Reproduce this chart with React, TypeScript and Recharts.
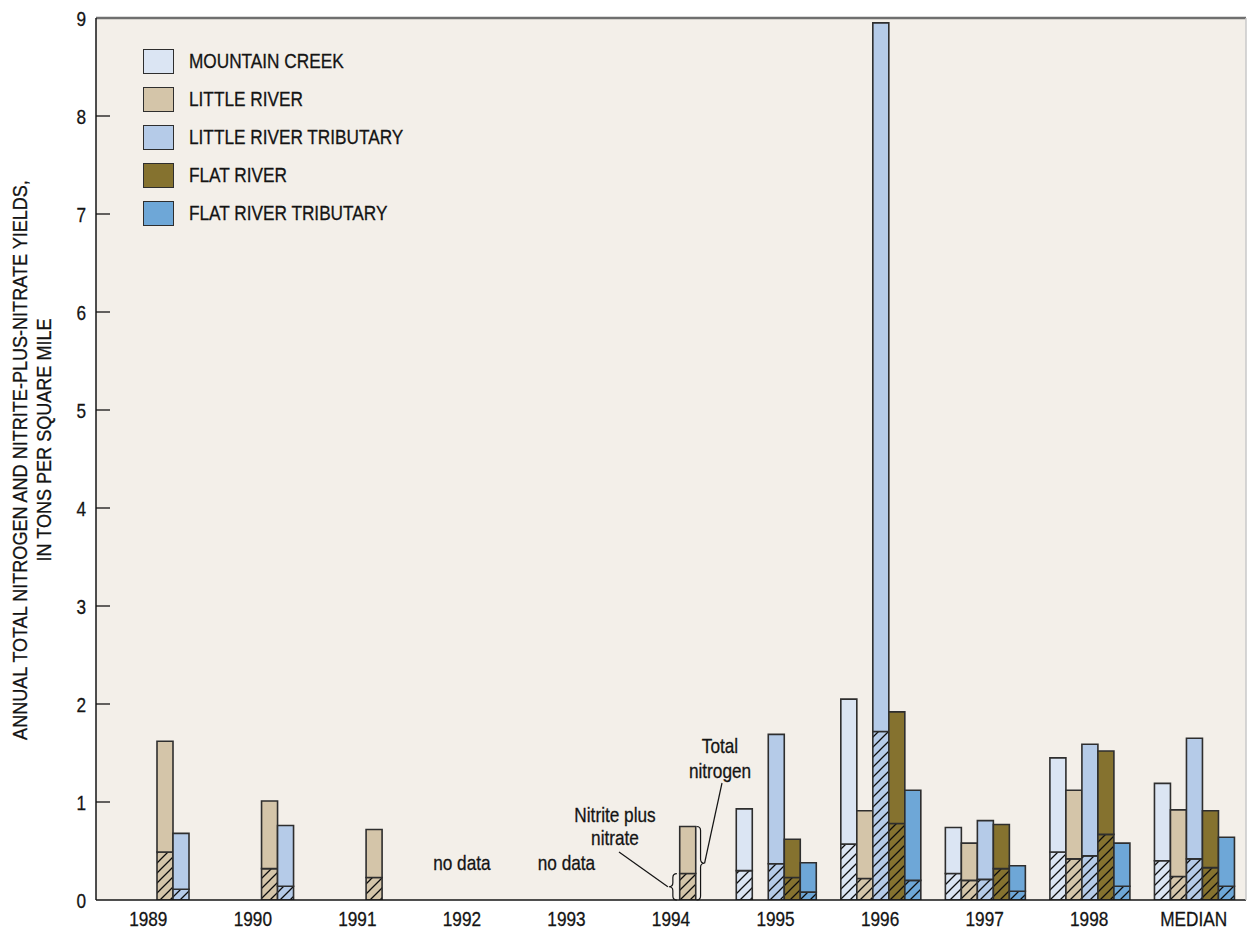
import { BarChart, Bar, XAxis, YAxis, CartesianGrid, Legend, ReferenceLine, ReferenceDot, Rectangle } from 'recharts'

// Annual yields, tons per square mile. null = no bar for that river and year
const years = ['1989', '1990', '1991', '1992', '1993', '1994', '1995', '1996', '1997', '1998', 'MEDIAN']

const mountainCreekTotal = [null, null, null, null, null, null, 0.93, 2.05, 0.74, 1.45, 1.19]
const mountainCreekNitrate = [null, null, null, null, null, null, 0.30, 0.57, 0.27, 0.49, 0.40]

const littleRiverTotal = [1.62, 1.01, 0.72, null, null, 0.75, null, 0.91, 0.58, 1.12, 0.92]
const littleRiverNitrate = [0.49, 0.32, 0.23, null, null, 0.27, null, 0.22, 0.20, 0.42, 0.24]

const littleTribTotal = [0.68, 0.76, null, null, null, null, 1.69, 8.95, 0.81, 1.59, 1.65]
const littleTribNitrate = [0.11, 0.14, null, null, null, null, 0.37, 1.72, 0.21, 0.45, 0.42]

const flatRiverTotal = [null, null, null, null, null, null, 0.62, 1.92, 0.77, 1.52, 0.91]
const flatRiverNitrate = [null, null, null, null, null, null, 0.23, 0.78, 0.32, 0.67, 0.33]

const flatTribTotal = [null, null, null, null, null, null, 0.38, 1.12, 0.35, 0.58, 0.64]
const flatTribNitrate = [null, null, null, null, null, null, 0.08, 0.20, 0.09, 0.14, 0.14]

const noDataYears = ['1992', '1993']
const yTicks = [0, 1, 2, 3, 4, 5, 6, 7, 8, 9]

const rivers = [
  { key: 'mc', name: 'MOUNTAIN CREEK', color: '#dbe5f3', total: mountainCreekTotal, nitrate: mountainCreekNitrate },
  { key: 'lr', name: 'LITTLE RIVER', color: '#d4c5a9', total: littleRiverTotal, nitrate: littleRiverNitrate },
  { key: 'lrt', name: 'LITTLE RIVER TRIBUTARY', color: '#b5cbe8', total: littleTribTotal, nitrate: littleTribNitrate },
  { key: 'fr', name: 'FLAT RIVER', color: '#85722f', total: flatRiverTotal, nitrate: flatRiverNitrate },
  { key: 'frt', name: 'FLAT RIVER TRIBUTARY', color: '#6ea7d7', total: flatTribTotal, nitrate: flatTribNitrate },
]

// lower hatched part = nitrite plus nitrate, upper solid part = rest of total nitrogen
const chartData = years.map((year, i) => {
  const row: Record<string, string | number | null> = { year }
  rivers.forEach(r => {
    const t = r.total[i]
    const n = r.nitrate[i]
    row[r.key + 'N'] = n
    row[r.key + 'R'] = t == null || n == null ? null : +(t - n).toFixed(2)
  })
  return row
})

const W = 1247
const H = 935
const PLOT_TOP = 18
const PLOT_BOTTOM = 900
const PLOT_LEFT = 96
const FONT = '"Liberation Sans", Arial, sans-serif'
const FS = 21
const SQUEEZE = 0.82 // condensed look of the original lettering
const INK = '#141414'
const BAR_STROKE = '#2e2e2e'

const pxPerUnit = (PLOT_BOTTOM - PLOT_TOP) / 9
const slotWidth = ((W - 1 - PLOT_LEFT) / years.length - 26) / 5

// in years sampled only on the Little River sites, the figure draws those
// bars two slots to the right within the year group
const earlyShift = (row: any) => (row && row.mcN == null && row.frN == null ? 2 : 0)

function ShiftedBar(props: any) {
  const shift = earlyShift(props.payload) * props.width
  return <Rectangle {...props} x={props.x + shift} />
}

function CondText({ x, y, anchor = 'middle', dy = '0', children }: any) {
  return (
    <text
      transform={`translate(${x}, ${y}) scale(${SQUEEZE}, 1)`}
      dy={dy}
      textAnchor={anchor}
      fill={INK}
      stroke={INK}
      strokeWidth={0.3}
      fontSize={FS}
      fontFamily={FONT}
    >
      {children}
    </text>
  )
}

function XTick(props: any) {
  const { x, y, payload } = props
  return <CondText x={x} y={y} dy="0.71em">{payload.value}</CondText>
}

function LeftTick(props: any) {
  const { x, y, payload } = props
  const axisX = x + 10
  return (
    <g>
      {payload.value > 0 && payload.value < 9 && (
        <line x1={axisX} x2={axisX + 14} y1={y} y2={y} stroke={INK} strokeWidth={1.3} />
      )}
      <CondText x={x} y={y} dy="0.36em" anchor="end">{payload.value}</CondText>
    </g>
  )
}

function RightTick(props: any) {
  const { x, y, payload } = props
  if (payload.value <= 0 || payload.value >= 9) return <g />
  return <line x1={x - 14} x2={x} y1={y} y2={y} stroke={INK} strokeWidth={1.3} />
}

function YLabel() {
  const common = {
    textAnchor: 'middle' as const,
    fill: INK,
    stroke: INK,
    strokeWidth: 0.3,
    fontSize: FS,
    fontFamily: FONT,
  }
  return (
    <g>
      <text transform="translate(27, 460) rotate(-90) scale(0.86, 1)" {...common}>
        ANNUAL TOTAL NITROGEN AND NITRITE-PLUS-NITRATE YIELDS,
      </text>
      <text transform="translate(51, 440) rotate(-90) scale(0.86, 1)" {...common}>
        IN TONS PER SQUARE MILE
      </text>
    </g>
  )
}

function NoData(props: any) {
  const { cx, cy } = props
  return <CondText x={cx} y={cy} dy="0.36em">no data</CondText>
}

function bracePath(x: number, y1: number, y2: number, dir: number) {
  const ym = (y1 + y2) / 2
  const d = 4 * dir
  return `M ${x - d} ${y1} Q ${x} ${y1} ${x} ${y1 + 4} L ${x} ${ym - 4} Q ${x} ${ym} ${x + d} ${ym} Q ${x} ${ym} ${x} ${ym + 4} L ${x} ${y2 - 4} Q ${x} ${y2} ${x - d} ${y2}`
}

// callouts on the 1994 Little River bar
function Callouts(props: any) {
  const { cx, cy } = props
  const idx = years.indexOf('1994')
  const slot = 1 + earlyShift(chartData[idx])
  const barLeft = cx + (slot - 2.5) * slotWidth
  const barRight = barLeft + slotWidth
  const yNit = cy - littleRiverNitrate[idx]! * pxPerUnit
  const yTot = cy - littleRiverTotal[idx]! * pxPerUnit
  const leftX = barLeft - 6
  const rightX = barRight + 6
  return (
    <g fill="none" stroke={INK} strokeWidth={1.2}>
      <path d={bracePath(leftX, yNit, cy, -1)} />
      <path d={bracePath(rightX, yTot, cy, 1)} />
      <line x1={cx - 52} y1={cy - 48} x2={leftX - 5} y2={(yNit + cy) / 2} />
      <line x1={cx + 51} y1={cy - 117} x2={rightX + 4} y2={(yTot + cy) / 2} />
      <CondText x={cx - 56} y={cy - 78}>Nitrite plus</CondText>
      <CondText x={cx - 56} y={cy - 55}>nitrate</CondText>
      <CondText x={cx + 49} y={cy - 147}>Total</CondText>
      <CondText x={cx + 49} y={cy - 122}>nitrogen</CondText>
    </g>
  )
}

function LegendBox(props: any) {
  const items = (props.payload || [])
    .filter((p: any) => p.type !== 'none')
    .sort((a: any, b: any) => rivers.findIndex(r => r.name === a.value) - rivers.findIndex(r => r.name === b.value))
  return (
    <div style={{ fontFamily: FONT, fontSize: FS, color: INK, WebkitTextStroke: `0.3px ${INK}` }}>
      {items.map((p: any) => (
        <div key={p.value} style={{ display: 'flex', alignItems: 'center', height: 38 }}>
          <div
            style={{
              width: 29,
              height: 23,
              background: p.color,
              border: `1.5px solid ${BAR_STROKE}`,
              marginRight: 15,
              flex: 'none',
            }}
          />
          <span style={{ display: 'inline-block', transform: `scaleX(${SQUEEZE})`, transformOrigin: 'left center', whiteSpace: 'nowrap' }}>
            {p.value}
          </span>
        </div>
      ))}
    </div>
  )
}

export default function App() {
  return (
    <div style={{ position: 'absolute', left: 0, top: 0, width: W, height: H, background: '#fff' }}>
      <BarChart
        width={W}
        height={H}
        data={chartData}
        margin={{ top: PLOT_TOP, right: 0, bottom: 0, left: 0 }}
        barCategoryGap={13}
        barGap={0}
      >
        <defs>
          {rivers.map(r => (
            <pattern key={r.key} id={'hatch-' + r.key} patternUnits="userSpaceOnUse" width={10} height={10}>
              <rect width={10} height={10} fill={r.color} />
              <path d="M -1 11 L 11 -1 M -2 2 L 2 -2 M 8 12 L 12 8" stroke="#0d0d0d" strokeWidth={1.3} />
            </pattern>
          ))}
        </defs>
        <CartesianGrid horizontal={false} vertical={false} fill="#f3efe9" />
        <XAxis
          dataKey="year"
          tickLine={false}
          tickSize={0}
          tickMargin={11}
          axisLine={{ stroke: INK, strokeWidth: 1.5 }}
          tick={XTick}
          height={35}
          interval={0}
        />
        <YAxis
          domain={[0, 9]}
          ticks={yTicks}
          width={PLOT_LEFT}
          tickLine={false}
          tickSize={0}
          tickMargin={10}
          tick={LeftTick}
          axisLine={{ stroke: INK, strokeWidth: 1.5 }}
          label={{ content: YLabel }}
          allowDataOverflow
        />
        <YAxis
          yAxisId="right"
          orientation="right"
          domain={[0, 9]}
          ticks={yTicks}
          width={1}
          tickLine={false}
          tickSize={0}
          tickMargin={0}
          tick={RightTick}
          axisLine={{ stroke: '#c8c8c8', strokeWidth: 1.5 }}
        />
        <ReferenceLine y={9} stroke="#6f6f6f" strokeWidth={2.5} />
        <Legend
          layout="horizontal"
          verticalAlign="middle"
          align="center"
          content={LegendBox}
          wrapperStyle={{ left: 143, top: 42, width: 320 }}
        />
        {rivers.flatMap(r => [
          <Bar
            key={r.key + 'N'}
            dataKey={r.key + 'N'}
            stackId={r.key}
            name={r.name + ' nitrite plus nitrate'}
            fill={`url(#hatch-${r.key})`}
            stroke={BAR_STROKE}
            strokeWidth={1.6}
            legendType="none"
            shape={ShiftedBar}
            isAnimationActive={false}
          />,
          <Bar
            key={r.key + 'R'}
            dataKey={r.key + 'R'}
            stackId={r.key}
            name={r.name}
            fill={r.color}
            stroke={BAR_STROKE}
            strokeWidth={1.6}
            shape={ShiftedBar}
            isAnimationActive={false}
          />,
        ])}
        {noDataYears.map(y => (
          <ReferenceDot key={y} x={y} y={0.38} r={0} shape={NoData} ifOverflow="visible" />
        ))}
        <ReferenceDot x="1994" y={0} r={0} shape={Callouts} ifOverflow="visible" />
      </BarChart>
    </div>
  )
}
